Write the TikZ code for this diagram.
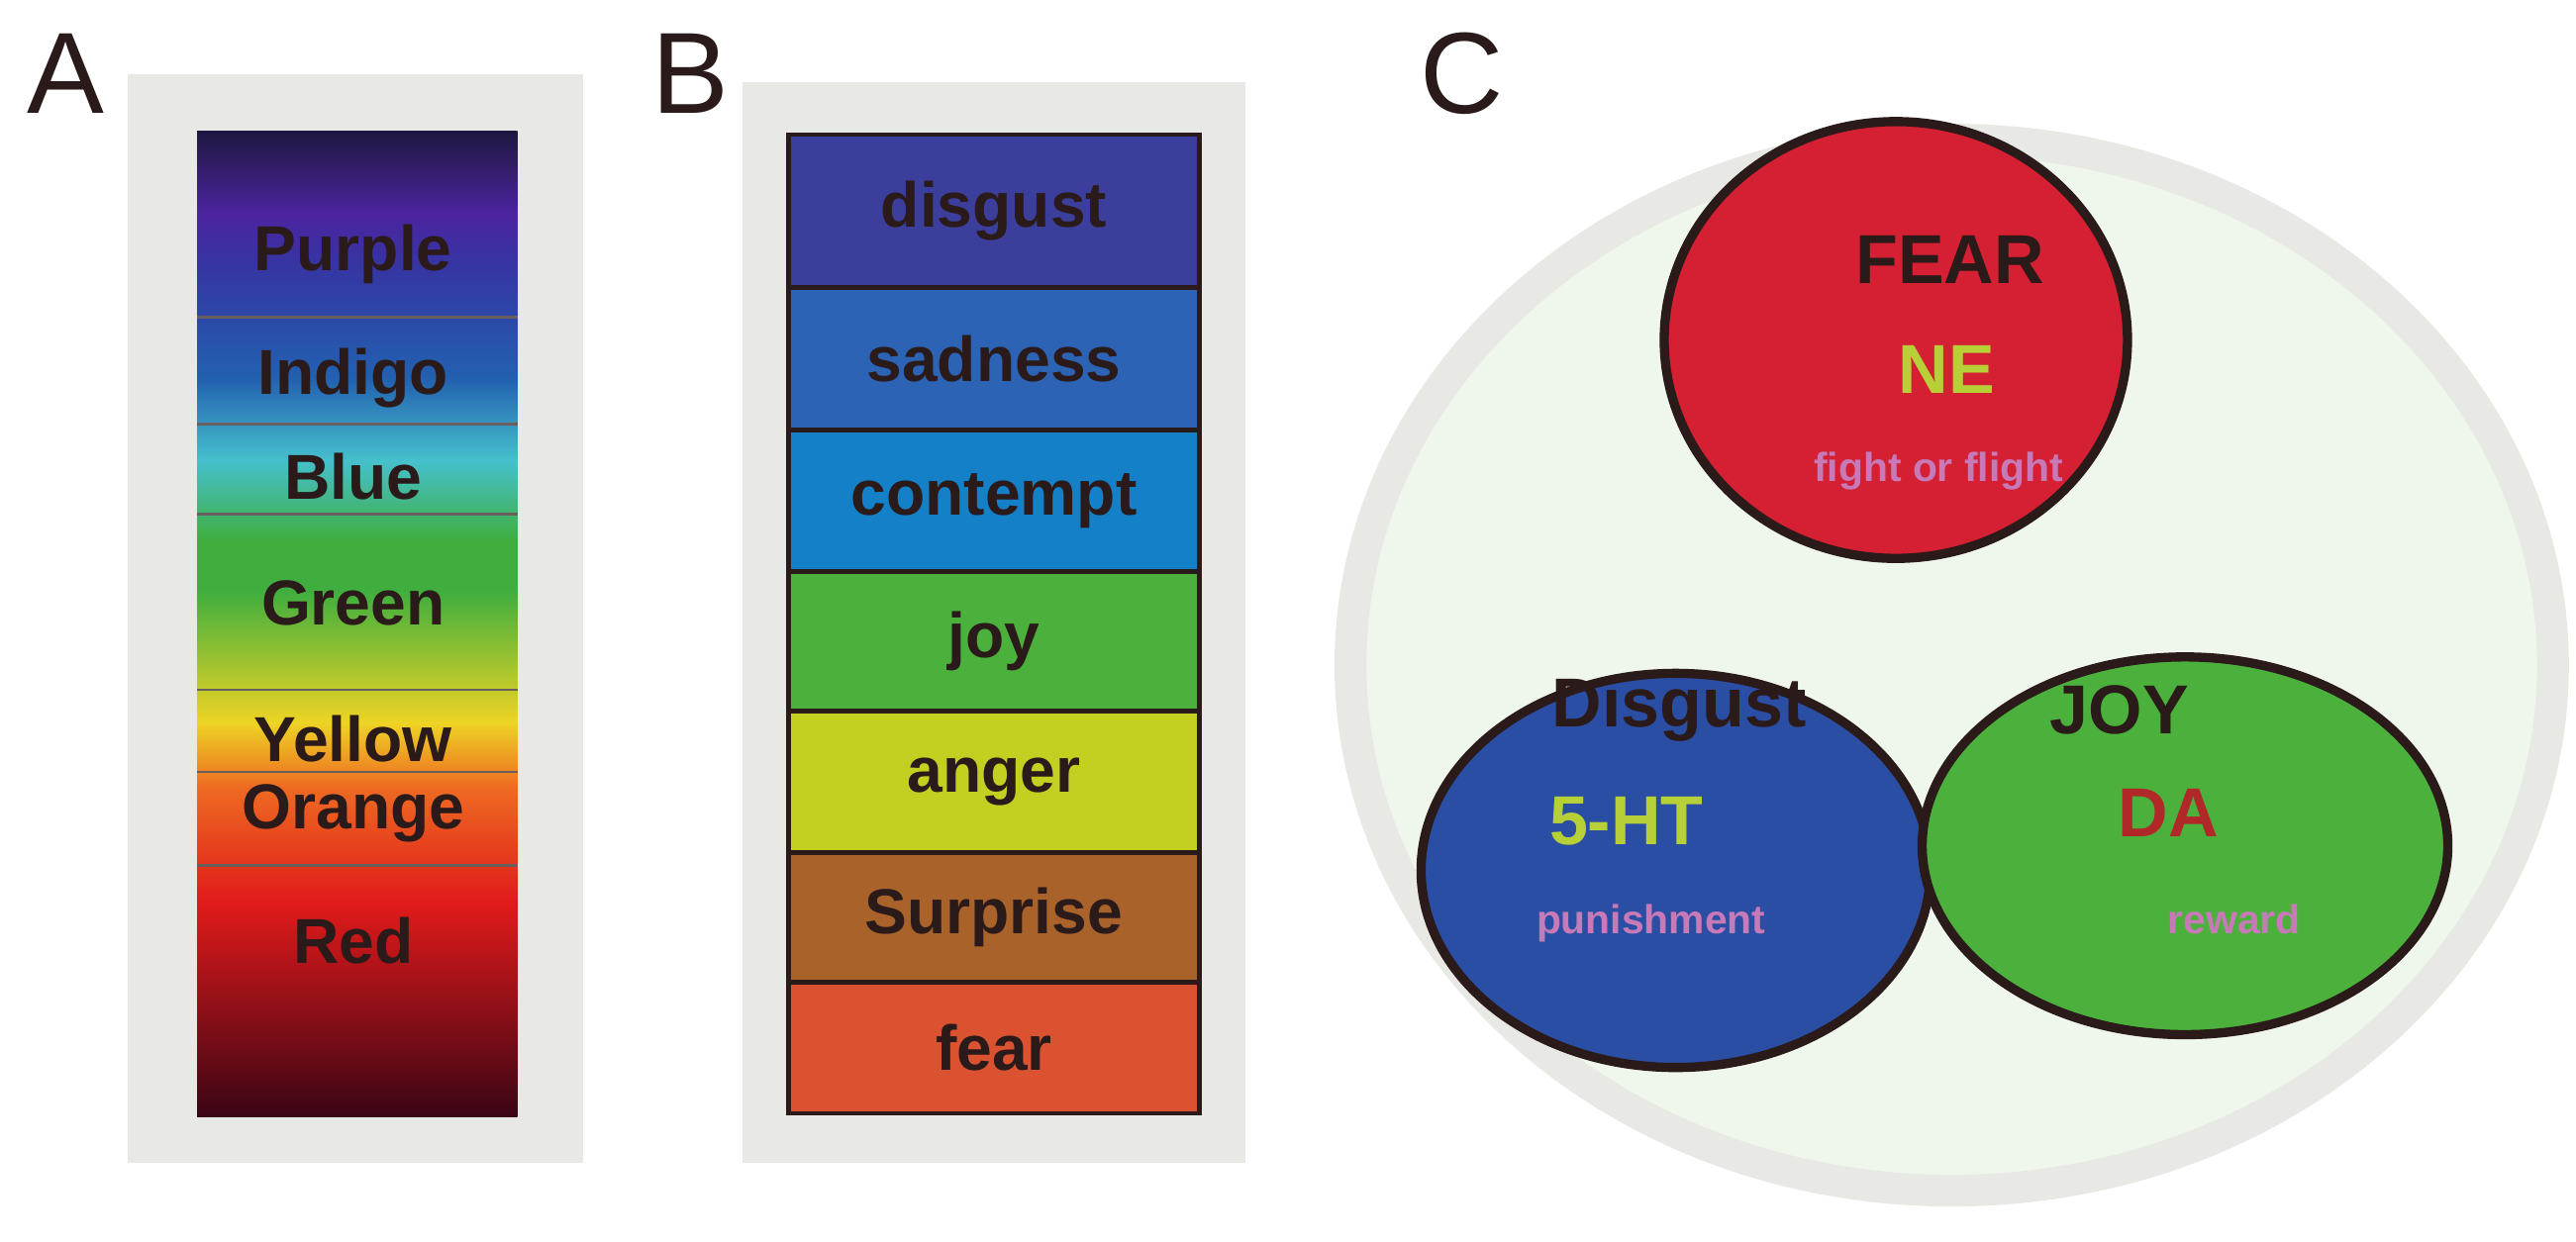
\documentclass[tikz,border=0pt]{standalone}
\usepackage{fontspec}
\setmainfont{Liberation Sans}
\definecolor{c0}{HTML}{3A0515}
\definecolor{c1}{HTML}{E01A1A}
\definecolor{c2}{HTML}{EE6A22}
\definecolor{c3}{HTML}{EED424}
\definecolor{c4}{HTML}{3FAE3E}
\definecolor{c5}{HTML}{46C0CC}
\definecolor{c6}{HTML}{2260B0}
\definecolor{c7}{HTML}{3634A2}
\definecolor{c8}{HTML}{4C24A0}
\definecolor{c9}{HTML}{1E1840}
\definecolor{frame}{HTML}{E8E8E4}
\definecolor{txt}{HTML}{2A1A1A}
\definecolor{pinkt}{HTML}{C87AB8}
\pgfdeclareverticalshading{rainbow}{100bp}{color(0bp)=(c0); color(25bp)=(c0); color(35.8bp)=(c1); color(41.7bp)=(c2); color(45bp)=(c3); color(51.7bp)=(c4); color(54.2bp)=(c4); color(58.3bp)=(c5); color(62.5bp)=(c6); color(68.3bp)=(c7); color(70.8bp)=(c8); color(75bp)=(c9); color(100bp)=(c9)}
\begin{document}
\begin{tikzpicture}[x=0.01cm,y=-0.01cm,
  lab/.style={font=\fontsize{11}{13}\selectfont\bfseries,text=txt},
  panel/.style={font=\fontsize{20}{22}\selectfont,text=txt},
  row/.style={draw=txt,line width=0.8pt},
  big/.style={font=\fontsize{12}{14}\selectfont\bfseries},
  small/.style={font=\fontsize{7}{9}\selectfont\bfseries,text=pinkt}]
\useasboundingbox (0,0) rectangle (1568,756);
% A
\node[panel] (LA) at (40,45) {A};
\fill[frame] (78,45) rectangle (355,708);
\shade[shading=rainbow] (120,80) rectangle (315,680);
\foreach \y in {193,258,313,420,470,527}{\draw[txt!70,line width=0.5pt] (120,\y) -- (315,\y);}
\foreach \t/\y in {Purple/155,Indigo/230,Blue/290,Green/367,Yellow/450,Orange/495,Red/573}{\node[lab] (a\t) at (215,\y) {\t};}
% B
\node[panel] (LB) at (420,45) {B};
\fill[frame] (452,50) rectangle (758,708);
\foreach \t/\a/\b/\c in {disgust/82/175/3B3F9B,sadness/175/262/2C63B5,contempt/262/348/1480C8,joy/348/433/4BB03C,anger/433/519/C3CF21,Surprise/519/598/A8622A,fear/598/678/DB5231}{
  \definecolor{tmp}{HTML}{\c}
  \draw[row,fill=tmp] (480,\a) rectangle (730,\b);
  \node[lab] (b\t) at (605,{(\a+\b)/2}) {\t};}
% C
\node[panel] (LC) at (890,45) {C};
\draw[frame,line width=5.5pt,fill={rgb,255:red,239;green,246;blue,235}] (1188,405) ellipse [x radius=366, y radius=320];
\draw[txt,line width=1.6pt,fill={rgb,255:red,212;green,32;blue,50}] (1154,207) ellipse [x radius=141, y radius=133];
\draw[txt,line width=1.6pt,fill={rgb,255:red,42;green,78;blue,163}] (1020,530) ellipse [x radius=155, y radius=120];
\draw[txt,line width=1.6pt,fill={rgb,255:red,76;green,176;blue,60}] (1330,515) ellipse [x radius=160, y radius=115];
\node[big,text=txt] (fear) at (1187,158) {FEAR};
\node[big,text={rgb,255:red,184;green,208;blue,55}] (ne) at (1185,225) {NE};
\node[small] (ff) at (1180,287) {fight or flight};
\node[big,text=txt] (dis) at (1022,432) {Disgust};
\node[big,text={rgb,255:red,184;green,208;blue,55}] (ht) at (990,500) {5-HT};
\node[small] (pun) at (1005,562) {punishment};
\node[big,text=txt] (joy) at (1290,432) {JOY};
\node[big,text={rgb,255:red,176;green,40;blue,40}] (da) at (1320,495) {DA};
\node[small] (rew) at (1360,560) {reward};
\end{tikzpicture}
\end{document}
